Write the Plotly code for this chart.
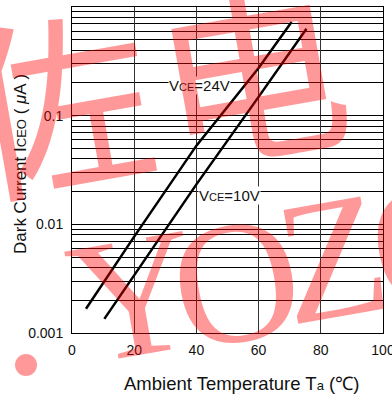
import plotly.graph_objects as go

# Data
temp_24v = [4.5, 20, 40, 60, 70.6]
icEO_24v = [0.00167, 0.0077, 0.053, 0.275, 0.727]
temp_10v = [10.4, 20, 40, 60, 75.4]
icEO_10v = [0.00135, 0.00343, 0.0233, 0.149, 0.631]

y_tickvals = [0.001, 0.01, 0.1, 1]
y_ticktext = ["0.001", "0.01", "0.1", "1"]
x_tickvals = [0, 20, 40, 60, 80, 100]

FONT = "Liberation Sans, Arial, sans-serif"
WM = "rgba(255,0,0,0.4)"

fig = go.Figure()
fig.add_trace(go.Scatter(x=temp_24v, y=icEO_24v, mode="lines",
                         line=dict(color="black", width=2.5), showlegend=False))
fig.add_trace(go.Scatter(x=temp_10v, y=icEO_10v, mode="lines",
                         line=dict(color="black", width=2.5), showlegend=False))


def px2paper(px, py):
    return (px - 72) / 311.0, (333 - py) / 326.0


annotations = [
    dict(x=41.1, y=-0.72, xref="x", yref="y", showarrow=False,
         text="V<span style='font-size:11px'>CE</span>=24V",
         font=dict(family=FONT, size=15, color="#111"), bgcolor="white", borderpad=0),
    dict(x=50.6, y=-1.733, xref="x", yref="y", showarrow=False,
         text="V<span style='font-size:11px'>CE</span>=10V",
         font=dict(family=FONT, size=15, color="#111"), bgcolor="white", borderpad=0),
]

# axis titles (placed as in the reference)
tx, ty = px2paper(241, 383)
annotations.append(dict(x=tx, y=ty, xref="paper", yref="paper", showarrow=False,
                        xanchor="center", yanchor="middle",
                        text="Ambient Temperature T<span style='font-size:13px'>a</span> (℃)",
                        font=dict(family=FONT, size=18.5, color="#111")))
tx, ty = px2paper(20, 164)
annotations.append(dict(x=tx, y=ty, xref="paper", yref="paper", showarrow=False,
                        xanchor="center", yanchor="middle", textangle=-90,
                        text="Dark Current I<span style='font-size:13px'>CEO</span> ( <i>μ</i>A )",
                        font=dict(family=FONT, size=17, color="#111")))

# watermark
wm_chars = [("佐", 55, 95, 190, "Noto Sans CJK SC"),
            ("电", 250, 66, 190, "Noto Sans CJK SC"),
            ("Y", 134, 296, 175, "Liberation Serif"),
            ("O", 236, 282, 175, "Liberation Serif"),
            ("Z", 332, 258, 175, "Liberation Serif"),
            ("O", 434, 242, 175, "Liberation Serif")]
for ch, cx, cy, sz, fam in wm_chars:
    px_, py_ = px2paper(cx, cy)
    annotations.append(dict(x=px_, y=py_, xref="paper", yref="paper", showarrow=False,
                            text=ch, textangle=-10, xanchor="center", yanchor="middle",
                            font=dict(family=fam, size=sz, color=WM)))

dx0, dy0 = px2paper(15, 354)
dx1, dy1 = px2paper(37, 376)

fig.update_layout(
    width=392, height=396,
    margin=dict(l=72, r=9, t=7, b=63),
    paper_bgcolor="white", plot_bgcolor="white",
    font=dict(family=FONT, size=14, color="#111"),
    annotations=annotations,
    shapes=[dict(type="circle", xref="paper", yref="paper", x0=dx0, y0=dy1, x1=dx1, y1=dy0,
                 fillcolor=WM, line=dict(width=0), layer="above")],
    xaxis=dict(range=[0, 100], tickvals=x_tickvals, showgrid=True, gridcolor="#333",
               gridwidth=1, showline=True, mirror=True, linecolor="black", linewidth=1,
               ticks="", zeroline=False, tickfont=dict(size=14), automargin=False,
               ticklabeloverflow="allow", ticklabelstandoff=4),
    yaxis=dict(type="log", range=[-3, 0], tickvals=y_tickvals, ticktext=y_ticktext,
               showgrid=True, gridcolor="black", gridwidth=1,
               minor=dict(showgrid=True, dtick="D1", gridcolor="black", gridwidth=1),
               showline=True, mirror=True, linecolor="black", linewidth=1, automargin=False,
               ticks="", zeroline=False, tickfont=dict(size=14), ticklabelstandoff=5),
)

fig.write_html("out.html")
